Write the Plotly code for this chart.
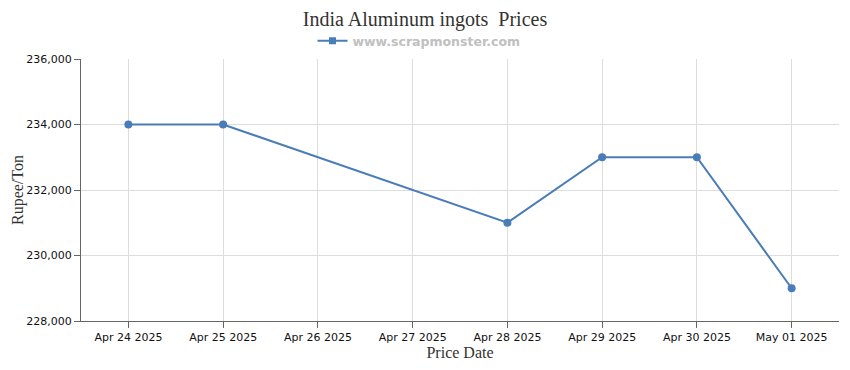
import plotly.graph_objects as go

dates = ["2025-04-24", "2025-04-25", "2025-04-28", "2025-04-29", "2025-04-30", "2025-05-01"]
prices = [234000, 234000, 231000, 233000, 233000, 229000]
tick_dates = ["2025-04-24", "2025-04-25", "2025-04-26", "2025-04-27", "2025-04-28",
              "2025-04-29", "2025-04-30", "2025-05-01"]
tick_labels = ["Apr 24 2025", "Apr 25 2025", "Apr 26 2025", "Apr 27 2025", "Apr 28 2025",
               "Apr 29 2025", "Apr 30 2025", "May 01 2025"]
y_ticks = [228000, 230000, 232000, 234000, 236000]

color = "#4a7db8"

fig = go.Figure()
fig.add_trace(go.Scatter(
    x=dates, y=prices, mode="lines+markers",
    line=dict(color=color, width=2),
    marker=dict(color=color, size=8, symbol="circle"),
    showlegend=False,
))
fig.add_trace(go.Scatter(
    x=[None], y=[None], mode="lines+markers",
    line=dict(color=color, width=2),
    marker=dict(color=color, size=7, symbol="square"),
    name="www.scrapmonster.com", showlegend=True,
))

fig.add_annotation(
    text="Rupee/Ton", xref="paper", yref="paper", x=(10 - 73) / 758, y=0.5,
    xanchor="center", yanchor="middle", textangle=-90, showarrow=False,
    font=dict(family="Liberation Serif", size=16, color="#333333"),
)

fig.update_layout(
    width=850, height=370,
    margin=dict(l=73, r=19, t=51, b=57, autoexpand=False),
    paper_bgcolor="white", plot_bgcolor="white",
    title=dict(text="India Aluminum ingots  Prices", x=417 / 850, xanchor="center",
               y=1 - 4 / 370, yanchor="top",
               font=dict(family="Liberation Serif", size=20, color="#333333")),
    legend=dict(orientation="h", x=411 / 850, xref="container", xanchor="center",
                y=1 - 33 / 370, yanchor="middle", yref="container",
                font=dict(family="DejaVu Sans", size=12.5, color="#c0c0c0", weight="bold"),
                itemwidth=30, bgcolor="rgba(0,0,0,0)"),
    xaxis=dict(
        range=["2025-04-23 12:00", "2025-05-01 12:00"],
        tickvals=tick_dates, ticktext=tick_labels,
        showgrid=True, gridcolor="#dddddd", gridwidth=1,
        showline=True, linecolor="#666666", linewidth=1,
        ticks="outside", ticklen=6, tickcolor="#666666",
        tickfont=dict(family="DejaVu Sans", size=11, color="#111111"),
        title=dict(text="Price Date", standoff=3,
                   font=dict(family="Liberation Serif", size=16, color="#333333")),
        zeroline=False, automargin=False,
    ),
    yaxis=dict(
        range=[228000, 236000],
        tickvals=y_ticks, tickformat=",d",
        showgrid=True, gridcolor="#dddddd", gridwidth=1,
        showline=True, linecolor="#666666", linewidth=1,
        ticks="outside", ticklen=6, tickcolor="#666666",
        tickfont=dict(family="DejaVu Sans", size=11, color="#111111"),
        zeroline=False, automargin=False,
    ),
)

fig.write_html("out.html")
